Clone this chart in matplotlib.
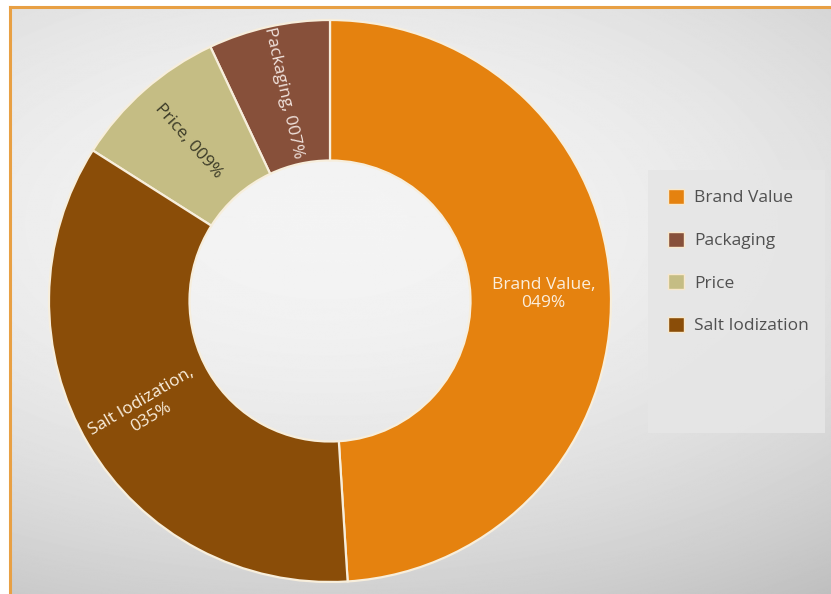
import numpy as np
import matplotlib.pyplot as plt
from matplotlib.patches import Patch, Rectangle
from matplotlib.lines import Line2D

plt.rcParams['font.family'] = ['Open Sans', 'DejaVu Sans']

categories = ['Brand Value', 'Packaging', 'Price', 'Salt Iodization']
shares = [49, 7, 9, 35]
colors = ['#e5820f', '#87503a', '#c5bd84', '#8a4d08']
label_colors = ['#fbeedd', '#f0e2dc', '#3b3a27', '#fbf0df']

W, H = 831, 594
fig = plt.figure(figsize=(W / 100, H / 100), dpi=100)
fig.patch.set_facecolor('white')

# grey radial background inside the orange frame
bg = fig.add_axes([10 / W, 0, 1 - 10 / W, 1 - 8 / H])
bg.set_axis_off()
yy, xx = np.mgrid[0:600, 0:830]
dist = np.hypot((xx - 320) / 900.0, (yy - 220) / 480.0)
shade = 0.955 - 0.22 * np.clip(dist, 0, 1.2) ** 2
bg.imshow(shade, cmap='gray', vmin=0, vmax=1, aspect='auto',
          extent=[0, 1, 0, 1], origin='upper', interpolation='bilinear')
bg.set_xlim(0, 1)
bg.set_ylim(0, 1)

# orange frame (top and left edges)
fig.add_artist(Line2D([10 / W, 1], [1 - 7 / H, 1 - 7 / H], color='#e8a044', lw=2.2))
fig.add_artist(Line2D([10 / W, 10 / W], [0, 1 - 7 / H], color='#e8a044', lw=2.2))

# donut
ax = fig.add_axes([49 / W, 12 / H, 562 / W, 562 / H])
total = sum(shares)
start = 90 - shares[0] / total * 360
wedges, _ = ax.pie(shares, colors=colors, startangle=start, counterclock=True,
                   radius=1.0,
                   wedgeprops=dict(width=0.5, edgecolor='#f7eedc', linewidth=1.6))
ax.set_xlim(-1, 1)
ax.set_ylim(-1, 1)
ax.set_aspect('equal')
ax.set_axis_off()

for w, cat, val, tc in zip(wedges, categories, shares, label_colors):
    mid = (w.theta1 + w.theta2) / 2
    r = 0.76
    x = r * np.cos(np.radians(mid))
    y = r * np.sin(np.radians(mid))
    if cat == 'Brand Value':
        rot = 0
        txt = f'{cat},\n{val:03d}%'
    elif cat == 'Salt Iodization':
        rot = mid - 180
        txt = f'{cat},\n{val:03d}%'
    else:
        rot = mid - 180
        txt = f'{cat}, {val:03d}%'
    ax.text(x, y, txt, ha='center', va='center', rotation=rot,
            rotation_mode='anchor', color=tc, fontsize=12.5,
            linespacing=1.2, multialignment='center')

# legend panel
fig.add_artist(Rectangle((648 / W, 1 - 433 / H), 177 / W, 263 / H,
                         transform=fig.transFigure, facecolor='#e6e6e6',
                         edgecolor='none', alpha=0.9))
handles = [Patch(facecolor=c, edgecolor='#f8e8cc', linewidth=1.0) for c in colors]
leg = fig.legend(handles, categories, loc='upper left',
                 bbox_to_anchor=(668 / W, 1 - 189 / H), frameon=False,
                 fontsize=12.5, labelcolor='#505050', handlelength=0.95,
                 handleheight=0.95, handletextpad=0.55, labelspacing=1.45,
                 borderpad=0, borderaxespad=0)

plt.savefig('out.png', dpi=100)
